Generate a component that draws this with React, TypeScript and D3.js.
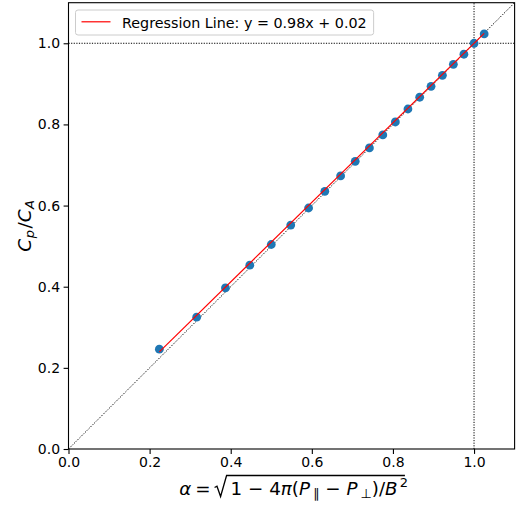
import { useEffect, useRef } from 'react';
import * as d3 from 'd3';

const alphaValues = [
  0.224, 0.316, 0.387, 0.447, 0.5, 0.548, 0.592, 0.632, 0.671, 0.707, 0.742,
  0.775, 0.806, 0.837, 0.866, 0.894, 0.922, 0.949, 0.975, 1.0, 1.025,
];
const ratioValues = [
  0.246, 0.325, 0.397, 0.453, 0.504, 0.552, 0.594, 0.635, 0.673, 0.709, 0.742,
  0.774, 0.806, 0.838, 0.867, 0.894, 0.921, 0.948, 0.973, 1.0, 1.023,
];
const fitSlope = 0.98;
const fitIntercept = 0.02;
const xTicks = [0, 0.2, 0.4, 0.6, 0.8, 1.0];
const yTicks = [0, 0.2, 0.4, 0.6, 0.8, 1.0];
const axisDomain: [number, number] = [0, 1.1];

const FONT = 'DejaVu Sans, sans-serif';

export default function App() {
  const svgRef = useRef<SVGSVGElement>(null);

  useEffect(() => {
    if (!svgRef.current) return;
    const width = 517;
    const height = 508;
    const margin = { top: 2.7, right: 2.4, bottom: 59, left: 68.5 };

    const svg = d3.select(svgRef.current);
    svg.selectAll('*').remove();

    const x = d3
      .scaleLinear()
      .domain(axisDomain)
      .range([margin.left, width - margin.right]);
    const y = d3
      .scaleLinear()
      .domain(axisDomain)
      .range([height - margin.bottom, margin.top]);

    svg
      .append('defs')
      .append('clipPath')
      .attr('id', 'plot-clip')
      .append('rect')
      .attr('x', x(0))
      .attr('y', y(1.1))
      .attr('width', x(1.1) - x(0))
      .attr('height', y(0) - y(1.1));

    const plot = svg.append('g').attr('clip-path', 'url(#plot-clip)');

    // dotted reference lines: y = x, y = 1, x = 1
    const dotted = (g: d3.Selection<SVGLineElement, unknown, null, undefined>) =>
      g
        .attr('stroke', 'black')
        .attr('stroke-width', 1)
        .attr('stroke-dasharray', '1.2,1.4');

    plot
      .append('line')
      .attr('x1', x(0))
      .attr('y1', y(0))
      .attr('x2', x(1.1))
      .attr('y2', y(1.1))
      .call(dotted);
    plot
      .append('line')
      .attr('x1', x(0))
      .attr('y1', y(1))
      .attr('x2', x(1.1))
      .attr('y2', y(1))
      .call(dotted);
    plot
      .append('line')
      .attr('x1', x(1))
      .attr('y1', y(0))
      .attr('x2', x(1))
      .attr('y2', y(1.1))
      .call(dotted);

    const points = alphaValues.map((a, i) => ({ a, r: ratioValues[i] }));

    plot
      .selectAll('circle')
      .data(points)
      .enter()
      .append('circle')
      .attr('cx', (d) => x(d.a))
      .attr('cy', (d) => y(d.r))
      .attr('r', 4.4)
      .attr('fill', '#1f77b4');

    const [xmin, xmax] = d3.extent(alphaValues) as [number, number];
    plot
      .append('line')
      .attr('x1', x(xmin))
      .attr('y1', y(fitSlope * xmin + fitIntercept))
      .attr('x2', x(xmax))
      .attr('y2', y(fitSlope * xmax + fitIntercept))
      .attr('stroke', 'red')
      .attr('stroke-width', 1.2);

    // axes
    const xAxis = svg
      .append('g')
      .attr('transform', `translate(0, ${y(0)})`)
      .call(
        d3
          .axisBottom(x)
          .tickValues(xTicks)
          .tickSize(4.9)
          .tickPadding(3.5)
          .tickFormat(d3.format('.1f'))
      );
    const yAxis = svg
      .append('g')
      .attr('transform', `translate(${x(0)}, 0)`)
      .call(
        d3
          .axisLeft(y)
          .tickValues(yTicks)
          .tickSize(4.9)
          .tickPadding(3.5)
          .tickFormat(d3.format('.1f'))
      );
    [xAxis, yAxis].forEach((g) => {
      g.select('.domain').remove();
      g.selectAll('line').attr('stroke', 'black').attr('stroke-width', 1.1);
      g.selectAll('text')
        .attr('font-family', FONT)
        .attr('font-size', 14)
        .attr('fill', 'black');
    });

    svg
      .append('rect')
      .attr('x', x(0))
      .attr('y', y(1.1))
      .attr('width', x(1.1) - x(0))
      .attr('height', y(0) - y(1.1))
      .attr('fill', 'none')
      .attr('stroke', 'black')
      .attr('stroke-width', 1.1);

    // legend
    const legend = svg.append('g');
    const legendText = legend
      .append('text')
      .attr('x', 122)
      .attr('y', 27.5)
      .attr('font-family', FONT)
      .attr('font-size', 14.3)
      .attr('fill', 'black')
      .text(`Regression Line: y = ${fitSlope}x + ${fitIntercept}`);
    const textW = (legendText.node() as SVGTextElement).getComputedTextLength();
    legend
      .insert('rect', 'text')
      .attr('x', 75.5)
      .attr('y', 10)
      .attr('width', 122 + textW + 7 - 75.5)
      .attr('height', 25)
      .attr('rx', 2.5)
      .attr('fill', 'white')
      .attr('fill-opacity', 0.8)
      .attr('stroke', '#cccccc')
      .attr('stroke-width', 1);
    legend
      .append('line')
      .attr('x1', 81.5)
      .attr('x2', 110.5)
      .attr('y1', 21.8)
      .attr('y2', 21.8)
      .attr('stroke', 'red')
      .attr('stroke-width', 1.2);

    // y label: C_p / C_A
    const ylab = svg
      .append('text')
      .attr('transform', `translate(30.5, ${(y(0) + y(1.1)) / 2}) rotate(-90)`)
      .attr('text-anchor', 'middle')
      .attr('font-family', FONT)
      .attr('font-size', 18.5)
      .attr('fill', 'black');
    ylab.append('tspan').attr('font-style', 'italic').text('C');
    ylab
      .append('tspan')
      .attr('font-style', 'italic')
      .attr('font-size', 13)
      .attr('dx', 0.5)
      .attr('dy', 3.6)
      .text('p');
    ylab.append('tspan').attr('dx', 1.5).attr('dy', -3.6).text('/');
    ylab.append('tspan').attr('font-style', 'italic').text('C');
    ylab
      .append('tspan')
      .attr('font-style', 'italic')
      .attr('font-size', 13)
      .attr('dx', 0.5)
      .attr('dy', 3.6)
      .text('A');

    // x label: alpha = sqrt(1 - 4pi(P_par - P_perp)/B^2)
    const base = 494.5;
    const fs = 18.3;
    const xlab = svg.append('g');
    const prefix = xlab
      .append('text')
      .attr('y', base)
      .attr('font-family', FONT)
      .attr('font-size', fs)
      .attr('fill', 'black');
    prefix.append('tspan').attr('font-style', 'italic').text('α');
    prefix.append('tspan').attr('dx', 4).text('=');

    const body = xlab
      .append('text')
      .attr('y', base)
      .attr('font-family', FONT)
      .attr('font-size', fs)
      .attr('fill', 'black');
    body.append('tspan').text('1 − 4');
    body.append('tspan').attr('font-style', 'italic').text('π');
    body.append('tspan').text('(');
    body.append('tspan').attr('font-style', 'italic').text('P');
    body.append('tspan').attr('font-size', 13).attr('dx', 3).attr('dy', 3.8).text('∥');
    body.append('tspan').attr('dy', -3.8).text(' − ');
    body.append('tspan').attr('font-style', 'italic').text('P');
    body.append('tspan').attr('font-size', 13).attr('dx', 3).attr('dy', 3.8).text('⊥');
    body.append('tspan').attr('dy', -3.8).text(')/');
    body.append('tspan').attr('font-style', 'italic').text('B');
    body.append('tspan').attr('font-size', 13).attr('dx', 2).attr('dy', -7.5).text('2');

    const prefixW = (prefix.node() as SVGTextElement).getComputedTextLength() + 4;
    const bodyW = (body.node() as SVGTextElement).getComputedTextLength() + 4;
    const gap = 4;
    const radW = 12;
    const total = prefixW + gap + radW + 4 + bodyW;
    const startX = (x(0) + x(1.1)) / 2 - total / 2;
    prefix.attr('x', startX);
    const rx = startX + prefixW + gap;
    body.attr('x', rx + radW + 4);
    const top = 475.5;
    xlab
      .append('path')
      .attr(
        'd',
        `M${rx},${base - 7} L${rx + 2.4},${base - 8.3} L${rx + 6},${base + 2} L${rx + radW},${top} L${rx + radW + 4 + bodyW + 1},${top}`
      )
      .attr('fill', 'none')
      .attr('stroke', 'black')
      .attr('stroke-width', 1.3)
      .attr('stroke-linejoin', 'miter');
  }, []);

  return (
    <svg
      ref={svgRef}
      width={517}
      height={508}
      style={{ position: 'absolute', left: 0, top: 0, background: 'white' }}
    ></svg>
  );
}
